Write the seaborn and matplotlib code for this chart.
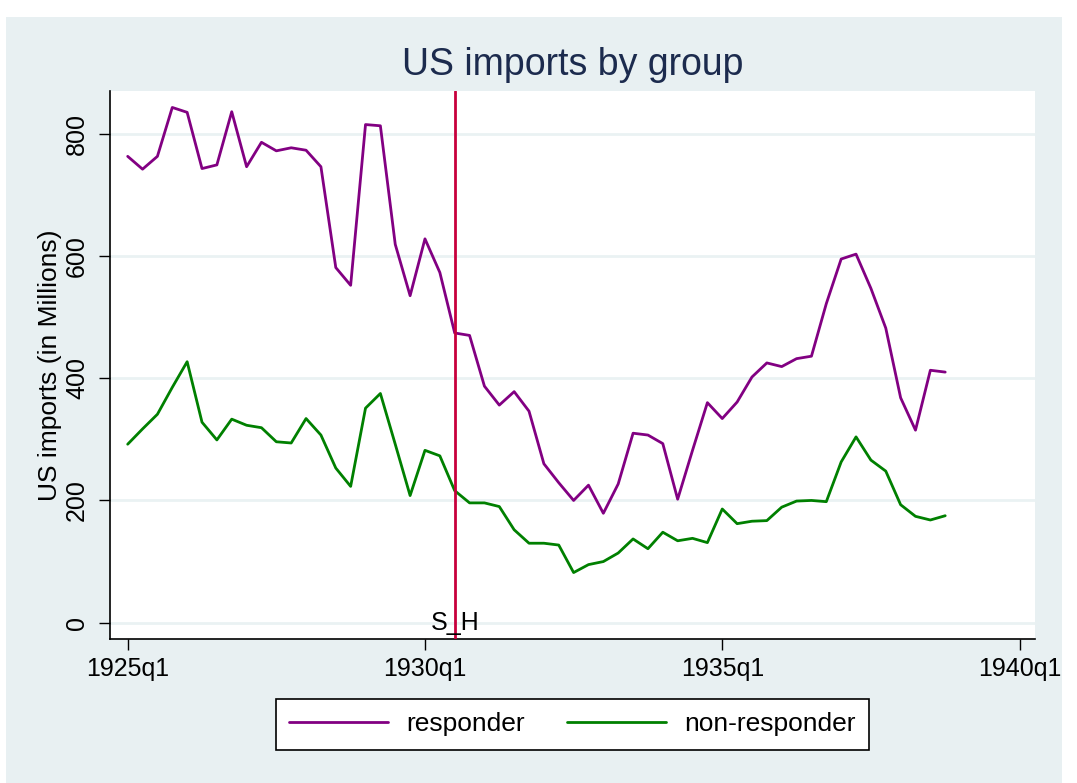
import matplotlib
matplotlib.use("Agg")
import matplotlib.pyplot as plt
import seaborn as sns
import pandas as pd
import numpy as np
from matplotlib.patches import Rectangle
from matplotlib.lines import Line2D

# ---- data (quarterly, 1925q1 .. 1938q4) ----
start_year = 1925
n_quarters = 56
responder = [763, 742, 763, 843, 835, 743, 749, 836, 746, 786,
             772, 777, 773, 746, 581, 552, 815, 813, 619, 535,
             628, 573, 474, 470, 387, 356, 378, 346, 260, 229,
             200, 225, 179, 227, 310, 307, 293, 202, 282, 360,
             334, 361, 402, 425, 419, 432, 436, 522, 595, 603,
             547, 482, 368, 315, 413, 410]
non_responder = [292, 317, 341, 385, 427, 328, 299, 333, 323, 319,
                 296, 294, 334, 307, 253, 223, 351, 375, 292, 208,
                 282, 273, 216, 196, 196, 190, 152, 130, 130, 127,
                 82, 95, 100, 114, 137, 121, 148, 134, 138, 131,
                 186, 162, 166, 167, 189, 199, 200, 198, 263, 304,
                 266, 248, 193, 174, 168, 175]
groups = ["responder", "non-responder"]
x_tick_labels = ["1925q1", "1930q1", "1935q1", "1940q1"]
y_ticks = [0, 200, 400, 600, 800]
event_quarter = "1930q3"
event_label = "S_H"

quarters = list(range(n_quarters))
df = pd.DataFrame({
    "t": quarters * 2,
    "imports": responder + non_responder,
    "group": [groups[0]] * n_quarters + [groups[1]] * n_quarters,
})

def q_index(label):
    y, q = label.split("q")
    return (int(y) - start_year) * 4 + int(q) - 1

sns.set_theme(style="white")
plt.rcParams["font.family"] = ["Liberation Sans", "DejaVu Sans"]
plt.rcParams["text.color"] = "black"
plt.rcParams["axes.labelcolor"] = "black"

W, H = 1077, 783
fig = plt.figure(figsize=(W / 100, H / 100), dpi=100, facecolor="white")
bg = "#e8f0f2"
fig.patches.append(Rectangle((5.5 / W, 0), (1062 - 5.5) / W, (H - 17) / H,
                             transform=fig.transFigure, facecolor=bg,
                             edgecolor="none", zorder=-10))

ax = fig.add_axes([110 / W, (H - 639) / H, 925 / W, 548.3 / H])
ax.set_facecolor("white")

palette = {"responder": "#820082", "non-responder": "#008000"}
sns.lineplot(data=df, x="t", y="imports", hue="group", palette=palette,
             linewidth=2.0, ax=ax, legend=False, zorder=3)

ax.axvline(q_index(event_quarter), color="#c8003c", linewidth=2.0, zorder=4)
ax.text(q_index(event_quarter), 0, event_label, ha="center", va="center",
        fontsize=18, color="black", zorder=5)

ax.set_xlim(-1.19, 61.04)
ax.set_ylim(-26.7, 870.4)
ax.set_xticks([q_index(l) for l in x_tick_labels])
ax.set_xticklabels(x_tick_labels, fontsize=18)
ax.set_yticks(y_ticks)
ax.set_yticklabels([str(v) for v in y_ticks], fontsize=18, rotation=90,
                   va="center")
ax.grid(axis="y", color="#eaf2f3", linewidth=2.0, zorder=0)
ax.grid(axis="x", visible=False)
ax.set_axisbelow(True)

for s in ["top", "right"]:
    ax.spines[s].set_visible(False)
for s in ["left", "bottom"]:
    ax.spines[s].set_color("black")
    ax.spines[s].set_linewidth(1.2)
ax.tick_params(axis="both", which="major", direction="out", length=8,
               width=1.0, color="black", labelcolor="black", bottom=True,
               left=True)
ax.tick_params(axis="x", pad=5)
ax.tick_params(axis="y", pad=7)

ax.set_xlabel("")
ax.set_ylabel("US imports (in Millions)", fontsize=19, labelpad=2,
              color="black")

fig.text(572.5 / W, (H - 65) / H, "US imports by group", ha="center",
         va="center", fontsize=27, color="#1c2b4e")

handles = [Line2D([], [], color=palette[g], linewidth=2.0) for g in groups]
leg = fig.legend(handles, groups, loc="center",
                 bbox_to_anchor=(572.5 / W, (H - 724.5) / H), ncol=2,
                 fontsize=19, frameon=True, fancybox=False, shadow=False,
                 handlelength=3.75, handletextpad=0.7, columnspacing=1.6,
                 borderpad=0.5)
for t in leg.get_texts():
    t.set_color("black")
frame = leg.get_frame()
frame.set_edgecolor("black")
frame.set_linewidth(1.2)
frame.set_facecolor("white")
frame.set_alpha(1.0)

fig.savefig("out.png", dpi=100, facecolor=fig.get_facecolor())
